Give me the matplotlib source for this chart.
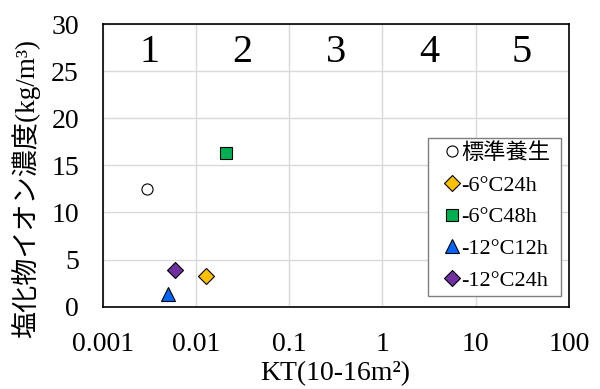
import matplotlib
matplotlib.use("Agg")
import matplotlib.pyplot as plt

# Data
labels = ["標準養生", "-6°C24h", "-6°C48h", "-12°C12h", "-12°C24h"]
kt_values = [0.0030, 0.0129, 0.0209, 0.0050, 0.0060]
chloride = [12.5, 3.25, 16.3, 1.4, 3.9]
markers = ["o", "D", "s", "^", "D"]
face_colors = ["white", "#FFC000", "#00B050", "#0066FF", "#7030A0"]
marker_sizes = [8, 8, 9, 10, 8]

zone_labels = ["1", "2", "3", "4", "5"]
zone_centers = [10 ** -2.5, 10 ** -1.5, 10 ** -0.5, 10 ** 0.5, 10 ** 1.5]

x_ticks = [0.001, 0.01, 0.1, 1, 10, 100]
x_tick_labels = ["0.001", "0.01", "0.1", "1", "10", "100"]
y_ticks = [0, 5, 10, 15, 20, 25, 30]

fam = ["Liberation Serif", "Noto Sans CJK JP"]
plt.rcParams["font.family"] = fam

fig = plt.figure(figsize=(6.0, 3.89), dpi=100)
ax = fig.add_axes([0.171, 0.2116, 0.777, 0.7264])

for lab, x, y, m, c, s in zip(labels, kt_values, chloride, markers, face_colors, marker_sizes):
    ax.plot(x, y, linestyle="none", marker=m, markersize=s, markerfacecolor=c,
            markeredgecolor="black", markeredgewidth=0.8, label=lab, zorder=3)

for lab, xc in zip(zone_labels, zone_centers):
    ax.text(xc, 26.0, lab, ha="center", va="baseline", fontsize=29,
            family=fam, zorder=2)

ax.set_xscale("log")
ax.set_xlim(0.001, 100)
ax.set_ylim(0, 30)
ax.set_xticks(x_ticks)
ax.set_xticklabels(x_tick_labels)
ax.minorticks_off()
ax.set_yticks(y_ticks)
ax.tick_params(axis="both", length=0, labelsize=20)
ax.tick_params(axis="x", pad=18)
ax.tick_params(axis="y", pad=17)

ax.grid(True, color="#d9d9d9", linewidth=1.0, zorder=0)
ax.set_axisbelow(True)
for sp in ax.spines.values():
    sp.set_color("black")
    sp.set_linewidth(1.2)

ax.set_xlabel("KT(10-16m²)", fontsize=20, labelpad=3)
ax.set_ylabel("塩化物イオン濃度(kg/m³)", fontsize=19.5)
ax.yaxis.set_label_coords(-0.135, 0.419)

leg = ax.legend(loc="lower left", bbox_to_anchor=(0.697, 0.039, 0.286, 0.57),
                mode="expand", prop={"family": fam, "size": 16}, frameon=True,
                fancybox=False, edgecolor="#7f7f7f", framealpha=1,
                handlelength=1.75, handletextpad=-0.45, labelspacing=0.5,
                borderpad=0.22, borderaxespad=0)
leg.get_frame().set_linewidth(1.0)

fig.savefig("out.png", dpi=100)
